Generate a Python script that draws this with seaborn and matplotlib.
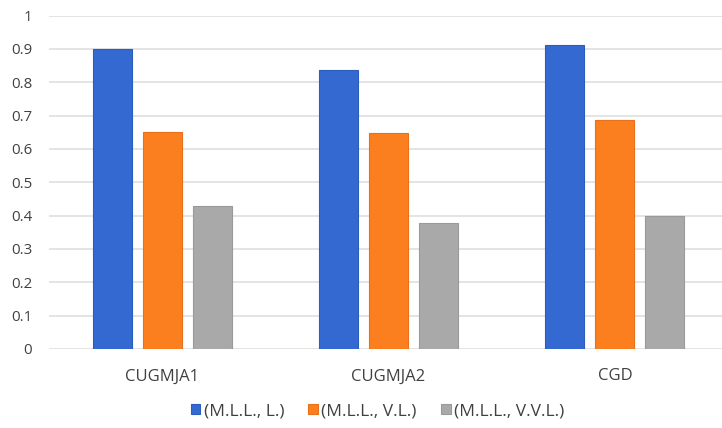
import matplotlib
matplotlib.use("Agg")
import matplotlib.pyplot as plt
import seaborn as sns
import pandas as pd
from matplotlib.patches import Patch

categories = ["CUGMJA1", "CUGMJA2", "CGD"]
series_names = ["(M.L.L., L.)", "(M.L.L., V.L.)", "(M.L.L., V.V.L.)"]
ml_l = [0.90, 0.837, 0.913]
ml_vl = [0.652, 0.647, 0.686]
ml_vvl = [0.430, 0.377, 0.400]
y_ticks = [0, 0.1, 0.2, 0.3, 0.4, 0.5, 0.6, 0.7, 0.8, 0.9, 1.0]
y_tick_labels = ["0", "0.1", "0.2", "0.3", "0.4", "0.5", "0.6", "0.7", "0.8", "0.9", "1"]

colors = ["#3369D1", "#FC7F1F", "#A9A9A9"]
edge_colors = ["#2A5DBE", "#E8701A", "#999999"]
text_color = "#404040"

df = pd.DataFrame({
    "category": categories * 3,
    "series": [s for s in series_names for _ in categories],
    "value": ml_l + ml_vl + ml_vvl,
})

sns.set_theme(style="white")
plt.rcParams["font.family"] = ["Open Sans", "DejaVu Sans"]

fig = plt.figure(figsize=(7.22, 4.28), dpi=100)
ax = fig.add_axes([49 / 722, 79 / 428, 679 / 722, 333.5 / 428])

sns.barplot(data=df, x="category", y="value", hue="series", order=categories,
            hue_order=series_names, palette=colors, width=0.662, gap=0.22,
            ax=ax, legend=False, saturation=1)

for i, container in enumerate(ax.containers):
    for bar in container:
        bar.set_edgecolor(edge_colors[i])
        bar.set_linewidth(0.8)

ax.set_xlim(-0.5, 2.5)
ax.set_ylim(0, 1.0)
ax.set_yticks(y_ticks)
ax.set_yticklabels(y_tick_labels)
ax.yaxis.grid(True, color="#E4E4E4", linewidth=1.4)
ax.set_axisbelow(True)
for s in ax.spines.values():
    s.set_visible(False)
ax.set_xlabel("")
ax.set_ylabel("")
ax.tick_params(axis="y", length=0, pad=12, labelsize=10.8, labelcolor=text_color)
ax.tick_params(axis="x", length=0, pad=14, labelsize=12, labelcolor=text_color)

handles = [Patch(facecolor=c, edgecolor=e, linewidth=0.8) for c, e in zip(colors, edge_colors)]
fig.legend(handles, series_names, loc="center", bbox_to_anchor=(377.5 / 722, 1 - 411 / 428),
           ncol=3, frameon=False, fontsize=12.5, labelcolor=text_color,
           handlelength=0.55, handleheight=0.55, handletextpad=0.2, columnspacing=1.4)

fig.savefig("out.png", dpi=100, facecolor="white")
